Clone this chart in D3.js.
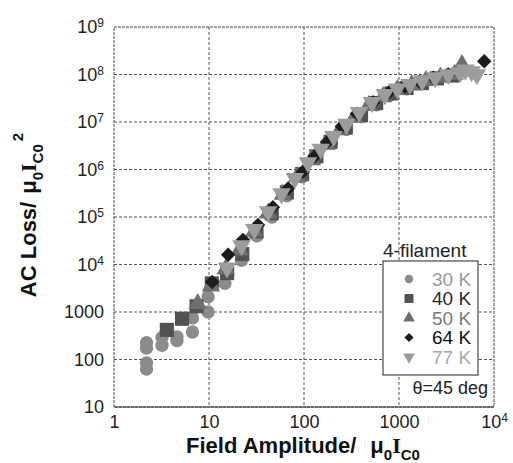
<!DOCTYPE html>
<html>
<head>
<meta charset="utf-8">
<script src="https://cdn.jsdelivr.net/npm/d3@7"></script>
<style>
body { margin: 0; background: #fff; }
text { font-family: "Liberation Sans", Arial, sans-serif; }
</style>
</head>
<body>
<svg id="chart" width="513" height="463"></svg>
<script>
// axis ticks
const xTicks = [1, 10, 100, 1000, 10000];
const xTickLabels = [["1", ""], ["10", ""], ["100", ""], ["1000", ""], ["10", "4"]];
const yTicks = [10, 100, 1000, 1e4, 1e5, 1e6, 1e7, 1e8, 1e9];
const yTickLabels = [["10", ""], ["100", ""], ["1000", ""], ["10", "4"], ["10", "5"],
                     ["10", "6"], ["10", "7"], ["10", "8"], ["10", "9"]];

// series (field amplitude / AC loss)
const temps = ["30 K", "40 K", "50 K", "64 K", "77 K"];

const field30 = [2.2, 2.2, 2.2, 2.2, 3.2, 3.2, 4.6, 4.6, 6.7, 6.7, 9.8, 9.8, 14.7, 22, 32, 46, 66, 95, 135, 195, 280, 400, 580, 830, 1200];
const loss30  = [63, 85, 175, 225, 200, 290, 250, 300, 380, 750, 1000, 2100, 4000, 12300, 40000, 1.0e5, 2.8e5, 7.0e5, 1.7e6, 3.6e6, 7.0e6, 1.3e7, 2.3e7, 3.8e7, 5.0e7];

const field40 = [3.6, 5.2, 7.4, 10.7, 15.5, 22.4, 31.6, 45.7, 66, 95.5, 135, 190, 275, 398, 575, 832, 1200, 1740, 2510, 3630];
const loss40  = [420, 720, 1320, 4000, 6600, 16600, 5.0e4, 1.2e5, 3.3e5, 8.0e5, 1.9e6, 3.8e6, 7.6e6, 1.4e7, 2.5e7, 4.0e7, 5.2e7, 6.6e7, 8.3e7, 9.5e7];

const field50 = [7.6, 10.5, 15, 21, 30, 42, 60, 85, 120, 170, 240, 340, 480, 680, 960, 1360, 1920, 2720, 3850, 4600];
const loss50  = [1500, 3500, 8000, 20000, 50000, 1.2e5, 3.0e5, 7.0e5, 1.6e6, 3.4e6, 6.8e6, 1.25e7, 2.2e7, 3.4e7, 4.8e7, 6.0e7, 7.4e7, 8.8e7, 1.0e8, 1.6e8];

const field64 = [10.8, 15.9, 22.8, 32.8, 47, 68, 97, 130, 175, 250, 360, 535, 780, 1150, 1650, 2300, 3300, 7900];
const loss64  = [4300, 16000, 33000, 68000, 1.6e5, 4.0e5, 9.0e5, 1.9e6, 3.8e6, 8.0e6, 1.5e7, 2.6e7, 4.2e7, 5.6e7, 7.0e7, 8.5e7, 1.0e8, 1.9e8];

const field77 = [15.5, 22, 30, 42, 58, 80, 110, 150, 205, 280, 380, 520, 710, 960, 1300, 1750, 2400, 3300, 4400, 5000, 5800, 6600];
const loss77  = [8500, 25000, 55000, 1.3e5, 3.1e5, 6.5e5, 1.4e6, 2.7e6, 5.0e6, 9.0e6, 1.6e7, 2.6e7, 3.8e7, 5.0e7, 6.2e7, 7.4e7, 8.6e7, 1.0e8, 1.1e8, 1.25e8, 1.15e8, 1.0e8];

const svg = d3.select("#chart");
const margin = {top: 27, left: 114},
      width = 380,
      height = 380;

const g = svg.append("g").attr("transform", `translate(${margin.left},${margin.top})`);

const x = d3.scaleLog().domain([1, 1e4]).range([0, width]);
const y = d3.scaleLog().domain([10, 1e9]).range([height, 0]);

// grid
g.append("g").selectAll("line")
    .data(xTicks.slice(1, -1))
    .join("line")
    .attr("x1", d => x(d)).attr("x2", d => x(d))
    .attr("y1", 0).attr("y2", height)
    .attr("stroke", "#555").attr("stroke-dasharray", "3,2");
g.append("g").selectAll("line")
    .data(yTicks.slice(1, -1))
    .join("line")
    .attr("x1", 0).attr("x2", width)
    .attr("y1", d => y(d)).attr("y2", d => y(d))
    .attr("stroke", "#555").attr("stroke-dasharray", "3,2");

// frame
g.append("rect")
    .attr("width", width).attr("height", height)
    .attr("fill", "none").attr("stroke", "#444").attr("stroke-dasharray", "3,1");
g.append("line")
    .attr("x1", 0).attr("x2", width).attr("y1", height).attr("y2", height)
    .attr("stroke", "#333");

// axes
const xAxis = g.append("g")
    .attr("transform", `translate(0,${height})`)
    .call(d3.axisBottom(x).tickValues(xTicks).tickSize(0).tickPadding(8).tickFormat(""));
const yAxis = g.append("g")
    .call(d3.axisLeft(y).tickValues(yTicks).tickSize(0).tickPadding(10).tickFormat(""));

[[xAxis, xTickLabels], [yAxis, yTickLabels]].forEach(([ax, labels]) => {
    ax.select(".domain").remove();
    ax.attr("font-size", 18).attr("font-family", "'Liberation Sans', Arial, sans-serif");
    ax.selectAll(".tick text").attr("fill", "#222").each(function(d, i) {
        const t = d3.select(this);
        t.append("tspan").text(labels[i][0]);
        if (labels[i][1]) {
            t.append("tspan").attr("dy", "-0.5em").attr("font-size", 12).text(labels[i][1]);
        }
    });
});

// markers
const allFields = [field30, field40, field50, field64, field77];
const allLosses = [loss30, loss40, loss50, loss64, loss77];
const shapes = [d3.symbolCircle, d3.symbolSquare, d3.symbolTriangle, d3.symbolSquare, d3.symbolTriangle];
const turns = [0, 0, 0, 45, 180];
const sizes = [140, 200, 150, 105, 150];
const fills = ["#8b8b8b", "#525252", "#6f6f6f", "#1c1c1c", "#9c9c9c"];
const labelColors = ["#9a9a9a", "#2a2a2a", "#7a7a7a", "#111", "#a8a8a8"];

temps.forEach((t, i) => {
    const sym = d3.symbol().type(shapes[i]).size(sizes[i]);
    g.append("g").selectAll("path")
        .data(d3.zip(allFields[i], allLosses[i]))
        .join("path")
        .attr("transform", d => `translate(${x(d[0])},${y(d[1])}) rotate(${turns[i]})`)
        .attr("d", sym)
        .attr("fill", fills[i]);
});

// legend
svg.append("text").attr("x", 383).attr("y", 257)
    .attr("font-size", 19).attr("fill", "#222").text("4-filament");
svg.append("rect").attr("x", 383).attr("y", 261).attr("width", 95).attr("height", 114)
    .attr("fill", "#fff").attr("stroke", "#222");
temps.forEach((t, i) => {
    const ly = 279 + i * 19.5;
    svg.append("path")
        .attr("transform", `translate(409,${ly}) rotate(${turns[i]})`)
        .attr("d", d3.symbol().type(shapes[i]).size(sizes[i] * 0.4))
        .attr("fill", fills[i]);
    svg.append("text").attr("x", 432).attr("y", ly).attr("dy", "0.36em")
        .attr("font-size", 19).attr("fill", labelColors[i]).text(t);
});
svg.append("text").attr("x", 488).attr("y", 394).attr("text-anchor", "end")
    .attr("font-size", 18).attr("fill", "#222").text("θ=45 deg");

// axis titles
const xt = svg.append("text").attr("x", 303).attr("y", 453).attr("text-anchor", "middle")
    .attr("font-size", 22).attr("font-weight", "bold").attr("fill", "#111");
xt.append("tspan").text("Field Amplitude/");
xt.append("tspan").attr("dx", 14).text("μ");
xt.append("tspan").attr("dy", 7).attr("font-size", 15).text("0");
xt.append("tspan").attr("dy", -7).attr("font-family", "'Liberation Serif', serif").text("I");
xt.append("tspan").attr("dy", 7).attr("font-size", 15).text("C0");

const yt = svg.append("text").attr("transform", "translate(36,215) rotate(-90)")
    .attr("text-anchor", "middle")
    .attr("font-size", 22).attr("font-weight", "bold").attr("fill", "#111");
yt.append("tspan").text("AC Loss/");
yt.append("tspan").attr("dx", 8).text("μ");
yt.append("tspan").attr("dy", 7).attr("font-size", 15).text("0");
yt.append("tspan").attr("dy", -7).attr("font-family", "'Liberation Serif', serif").text("I");
yt.append("tspan").attr("dy", 7).attr("font-size", 15).text("C0");
yt.append("tspan").attr("dy", -20).attr("dx", 3).attr("font-size", 15).text("2");
</script>
</body>
</html>
